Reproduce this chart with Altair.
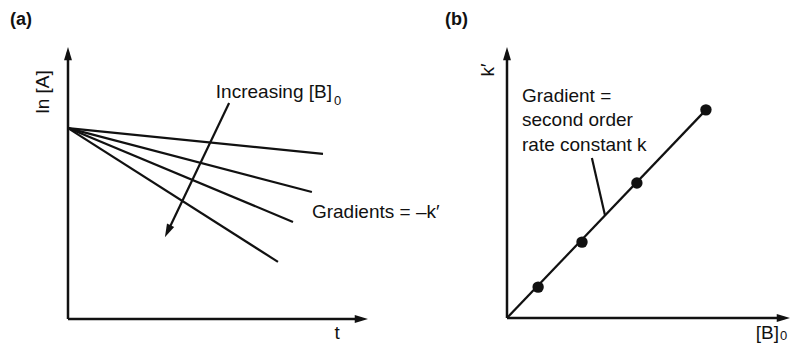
import altair as alt
import pandas as pd

# ---------------- data ----------------
# Panel (a): ln[A] against t, one straight line per [B]0 (all start at ln[A]0)
series_a = ["low [B]0", "mid-low [B]0", "mid-high [B]0", "high [B]0"]
lnA_start = 7.02
t_end = [8.5, 8.13, 7.5, 7.0]
lnA_end = [6.07, 4.67, 3.57, 2.10]

# Panel (b): pseudo-first-order constant k' against [B]0
B0 = [1.10, 2.65, 4.59, 7.03]
k_prime = [1.14, 2.80, 4.98, 7.68]
fit_B = [0.0, 7.03]
fit_k = [0.0, 7.68]

# ---------------- helpers ----------------
FONT = "Liberation Sans"
INK = "#111111"
ARROW = "M0,0L0.3,1L-0.3,1Z"  # arrow head, tip at the anchor

def enc(xdom, ydom):
    return dict(
        x=alt.X("x:Q", scale=alt.Scale(domain=xdom, nice=False, zero=False), axis=None),
        y=alt.Y("y:Q", scale=alt.Scale(domain=ydom, nice=False, zero=False), axis=None),
    )

def text_layer(rows, xdom, ydom, **kw):
    df = pd.DataFrame(rows)
    return alt.Chart(df).mark_text(font=FONT, color=INK, **kw).encode(
        text="label:N", **enc(xdom, ydom))

# ---------------- panel (a) ----------------
XA = [-2.0, 11.067]
YA = [-0.882, 11.434]

rows = []
for s, te, le in zip(series_a, t_end, lnA_end):
    rows.append({"series": s, "x": 0.0, "y": lnA_start})
    rows.append({"series": s, "x": te, "y": le})
lines_a = alt.Chart(pd.DataFrame(rows)).mark_line(color=INK, strokeWidth=2.2).encode(
    detail="series:N", **enc(XA, YA))

axes_a = alt.Chart(pd.DataFrame({"x": [0, 0], "y": [0, 0], "x2": [0, 9.8], "y2": [9.8, 0]})).mark_rule(
    color=INK, strokeWidth=2.5).encode(x2="x2:Q", y2="y2:Q", **enc(XA, YA))

heads_a = alt.Chart(pd.DataFrame({"x": [0, 10, 3.23], "y": [10, 0, 3.01], "ang": [0, 90, 205.5]})).mark_point(
    shape=ARROW, filled=True, color=INK, opacity=1, size=700, strokeWidth=0).encode(
    angle=alt.Angle("ang:Q", scale=None), **enc(XA, YA))

shaft_a = alt.Chart(pd.DataFrame({"x": [5.37], "y": [7.94], "x2": [3.32], "y2": [3.21]})).mark_rule(
    color=INK, strokeWidth=2.2).encode(x2="x2:Q", y2="y2:Q", **enc(XA, YA))

txt_a = alt.layer(
    text_layer([{"x": -1.93, "y": 10.99, "label": "(a)"}], XA, YA, align="left", baseline="middle",
               fontSize=18, fontWeight="bold"),
    text_layer([{"x": -0.83, "y": 8.35, "label": "ln [A]"}], XA, YA, align="center", baseline="middle",
               fontSize=19, angle=270),
    text_layer([{"x": 8.97, "y": -0.882, "label": "t"}], XA, YA, align="center", baseline="bottom",
               fontSize=19),
    text_layer([{"x": 8.8, "y": 8.35, "label": "Increasing [B]"}], XA, YA, align="right",
               baseline="middle", fontSize=19),
    text_layer([{"x": 8.87, "y": 8.03, "label": "0"}], XA, YA, align="left", baseline="middle",
               fontSize=13),
    text_layer([{"x": 8.13, "y": 3.93, "label": "Gradients = \u2013k\u2032"}], XA, YA, align="left",
               baseline="middle", fontSize=19),
)

panel_a = alt.layer(axes_a, lines_a, shaft_a, heads_a, txt_a).properties(width=392, height=335)

# ---------------- panel (b) ----------------
XB = [-3.781, 10.071]
YB = [-0.923, 11.439]

axes_b = alt.Chart(pd.DataFrame({"x": [0, 0], "y": [0, 0], "x2": [0, 9.8], "y2": [9.8, 0]})).mark_rule(
    color=INK, strokeWidth=2.5).encode(x2="x2:Q", y2="y2:Q", **enc(XB, YB))

heads_b = alt.Chart(pd.DataFrame({"x": [0, 10], "y": [10, 0], "ang": [0, 90]})).mark_point(
    shape=ARROW, filled=True, color=INK, opacity=1, size=700, strokeWidth=0).encode(
    angle=alt.Angle("ang:Q", scale=None), **enc(XB, YB))

fit_b = alt.Chart(pd.DataFrame({"x": fit_B, "y": fit_k})).mark_line(color=INK, strokeWidth=2.2).encode(
    **enc(XB, YB))

pts_b = alt.Chart(pd.DataFrame({"x": B0, "y": k_prime})).mark_circle(
    color=INK, opacity=1, size=130).encode(**enc(XB, YB))

pointer_b = alt.Chart(pd.DataFrame({"x": [3.0], "y": [5.90], "x2": [3.46], "y2": [3.80]})).mark_rule(
    color=INK, strokeWidth=2.2).encode(x2="x2:Q", y2="y2:Q", **enc(XB, YB))

txt_b = alt.layer(
    text_layer([{"x": -2.19, "y": 11.0, "label": "(b)"}], XB, YB, align="left", baseline="middle",
               fontSize=18, fontWeight="bold"),
    text_layer([{"x": -0.67, "y": 9.15, "label": "k\u2032"}], XB, YB, align="center", baseline="middle",
               fontSize=19, angle=270),
    text_layer([{"x": 0.53, "y": 8.19, "label": "Gradient ="},
                {"x": 0.53, "y": 7.31, "label": "second order"},
                {"x": 0.53, "y": 6.38, "label": "rate constant k"}], XB, YB, align="left",
               baseline="middle", fontSize=19),
    text_layer([{"x": 9.61, "y": -0.92, "label": "[B]"}], XB, YB, align="right", baseline="bottom",
               fontSize=19),
    text_layer([{"x": 9.65, "y": -0.92, "label": "0"}], XB, YB, align="left", baseline="bottom",
               fontSize=13),
)

panel_b = alt.layer(axes_b, fit_b, pointer_b, pts_b, heads_b, txt_b).properties(width=392, height=335)

chart = alt.hconcat(panel_a, panel_b, spacing=0, bounds="flush").properties(
    padding=0, background="white"
).configure_view(stroke=None)

chart.save("out.html", embed_options={"renderer": "svg", "actions": False})
